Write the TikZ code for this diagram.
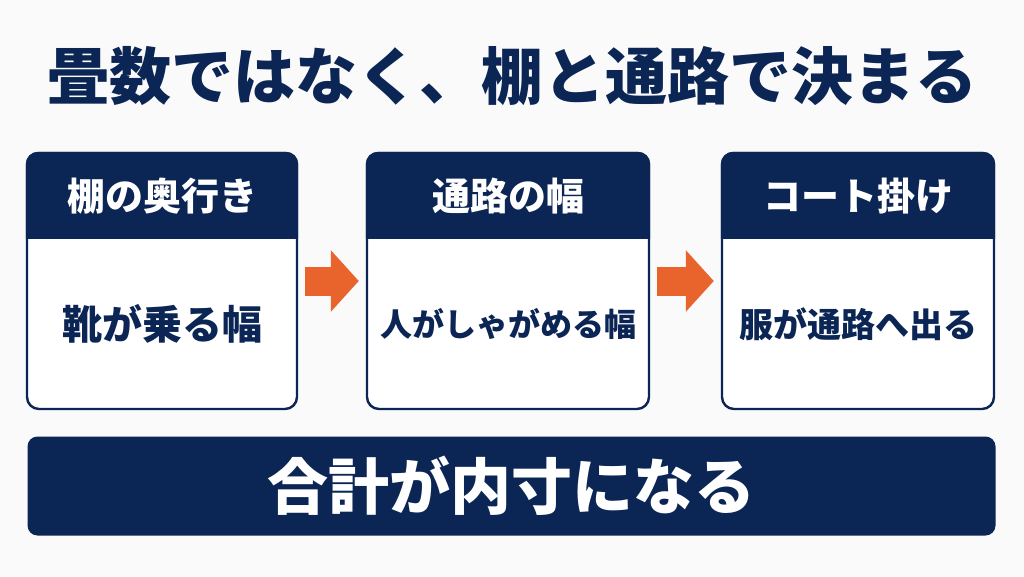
\documentclass[tikz,border=0pt]{standalone}
\usepackage{fontspec}
\setmainfont{Noto Sans CJK JP}
\usepackage{xcolor}
\usepackage{tikz}
\usetikzlibrary{arrows.meta,positioning,calc}
\definecolor{navy}{RGB}{11,37,84}
\definecolor{accent}{RGB}{233,100,45}
\definecolor{paper}{RGB}{250,250,251}

\begin{document}
\begin{tikzpicture}[x=1pt,y=1pt,
  card/.style={rectangle,rounded corners=12pt,draw=navy,line width=2.4pt,fill=white,minimum height=256pt,inner sep=0pt},
  head/.style={text=white,font=\bfseries\fontsize{38}{38}\selectfont},
  body/.style={text=navy,font=\bfseries\fontsize{#1}{#1}\selectfont},
  bar/.style={rectangle,rounded corners=10pt,fill=navy,minimum width=968pt,minimum height=99pt,text=white,font=\bfseries\fontsize{61}{61}\selectfont},
  flow/.style={draw=accent,line width=29pt,-{Triangle[length=28pt,width=60pt]},shorten <=7pt,shorten >=7pt}
]
\fill[paper] (0,0) rectangle (1024,-576);
\node[text=navy,font=\bfseries\fontsize{62}{62}\selectfont] (title) at (512,-76) {畳数ではなく、棚と通路で決まる};

\node[card,minimum width=270pt] (card1) at (162,-281) {};
\node[card,minimum width=282pt] (card2) at (508,-281) {};
\node[card,minimum width=272pt] (card3) at (858,-281) {};

% header bands
\fill[navy] ([yshift=-87pt]card1.north west) [rounded corners=12pt] -- (card1.north west) -- (card1.north east) [sharp corners] -- ([yshift=-87pt]card1.north east) -- cycle;
\fill[navy] ([yshift=-87pt]card2.north west) [rounded corners=12pt] -- (card2.north west) -- (card2.north east) [sharp corners] -- ([yshift=-87pt]card2.north east) -- cycle;
\fill[navy] ([yshift=-87pt]card3.north west) [rounded corners=12pt] -- (card3.north west) -- (card3.north east) [sharp corners] -- ([yshift=-87pt]card3.north east) -- cycle;

\node[head] (head1) at ([yshift=-44pt]card1.north) {棚の奥行き};
\node[head] (head2) at ([yshift=-44pt]card2.north) {通路の幅};
\node[head] (head3) at ([yshift=-44pt]card3.north) {コート掛け};

\node[body=40] (text1) at ([yshift=-43pt]card1.center) {靴が乗る幅};
\node[body=32] (text2) at ([yshift=-43pt]card2.center) {人がしゃがめる幅};
\node[body=34] (text3) at ([yshift=-43pt]card3.center) {服が通路へ出る};

\draw[flow] (card1.east) -- (card2.west);
\draw[flow] (card2.east) -- (card3.west);

\node[bar] (total) at (511.5,-486) {合計が内寸になる};
\end{tikzpicture}
\end{document}
